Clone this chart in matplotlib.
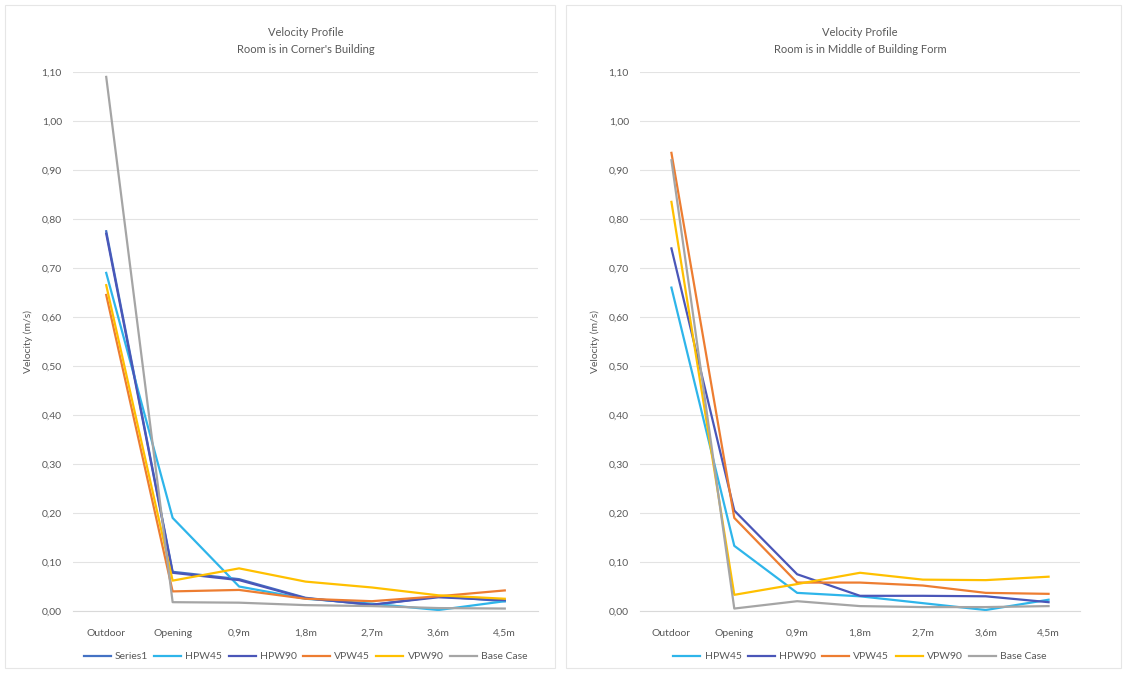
import numpy as np
import matplotlib
matplotlib.use("Agg")
import matplotlib.pyplot as plt
from matplotlib.ticker import FuncFormatter, MultipleLocator

plt.rcParams["font.family"] = ["Lato", "DejaVu Sans"]

categories = ["Outdoor", "Opening", "0,9m", "1,8m", "2,7m", "3,6m", "4,5m"]

# left chart: room in corner of building
corner_series1 = [0.775, 0.080, 0.065, 0.027, 0.012, 0.030, 0.020]
corner_hpw45 = [0.690, 0.190, 0.050, 0.025, 0.015, 0.002, 0.020]
corner_hpw90 = [0.770, 0.078, 0.063, 0.026, 0.013, 0.028, 0.022]
corner_vpw45 = [0.645, 0.040, 0.043, 0.025, 0.020, 0.030, 0.042]
corner_vpw90 = [0.665, 0.062, 0.087, 0.060, 0.048, 0.032, 0.025]
corner_base = [1.090, 0.018, 0.017, 0.012, 0.010, 0.006, 0.005]

# right chart: room in middle of building form
middle_hpw45 = [0.660, 0.133, 0.037, 0.030, 0.016, 0.002, 0.023]
middle_hpw90 = [0.740, 0.205, 0.075, 0.031, 0.031, 0.030, 0.018]
middle_vpw45 = [0.935, 0.190, 0.058, 0.058, 0.052, 0.037, 0.035]
middle_vpw90 = [0.835, 0.033, 0.055, 0.078, 0.064, 0.063, 0.070]
middle_base = [0.920, 0.005, 0.020, 0.010, 0.008, 0.008, 0.010]

colors = {
    "Series1": "#4472C4",
    "HPW45": "#2EB5EA",
    "HPW90": "#4A56B8",
    "VPW45": "#ED7D31",
    "VPW90": "#FFC000",
    "Base Case": "#A5A5A5",
}

txt = "#595959"
fig = plt.figure(figsize=(11.26, 6.73), dpi=100)

# chart frames
fig.add_artist(plt.Rectangle((5 / 1126, 5 / 673), 550 / 1126, 663 / 673,
                             fill=False, edgecolor="#E6E6E6", lw=0.8))
fig.add_artist(plt.Rectangle((566 / 1126, 5 / 673), 555 / 1126, 663 / 673,
                             fill=False, edgecolor="#E6E6E6", lw=0.8))


def comma(v, pos):
    return ("%.2f" % v).replace(".", ",")


def draw(ax, series, title):
    x = np.arange(len(categories))
    for name, vals in series:
        ax.plot(x, vals, color=colors[name], lw=1.6, label=name)
    ax.set_xlim(-0.5, 6.5)
    ax.set_ylim(0, 1.1)
    ax.yaxis.set_major_locator(MultipleLocator(0.1))
    ax.yaxis.set_major_formatter(FuncFormatter(comma))
    ax.set_xticks(x)
    ax.set_xticklabels(categories)
    ax.grid(axis="y", color="#E3E3E3", lw=0.8)
    ax.set_axisbelow(True)
    for s in ax.spines.values():
        s.set_visible(False)
    ax.spines["bottom"].set_visible(True)
    ax.spines["bottom"].set_color("#D9D9D9")
    ax.tick_params(length=0, labelsize=7.5, colors=txt)
    ax.tick_params(axis="x", pad=13)
    ax.tick_params(axis="y", pad=8)
    ax.set_ylabel("Velocity (m/s)", fontsize=7.5, color=txt, labelpad=6)
    ax.set_title(title, fontsize=8, color=txt, pad=14, linespacing=1.6)
    ax.legend(loc="center", bbox_to_anchor=(0.5, -0.085), ncol=len(series),
              frameon=False, fontsize=7.5, labelcolor=txt, handlelength=2.6,
              handletextpad=0.4, columnspacing=0.6)


bottom = 1 - 611 / 673
height = (611 - 72) / 673

ax1 = fig.add_axes([73 / 1126, bottom, (538 - 73) / 1126, height])
draw(ax1, [("Series1", corner_series1), ("HPW45", corner_hpw45),
           ("HPW90", corner_hpw90), ("VPW45", corner_vpw45),
           ("VPW90", corner_vpw90), ("Base Case", corner_base)],
     "Velocity Profile\nRoom is in Corner's Building")

ax2 = fig.add_axes([640 / 1126, bottom, (1080 - 640) / 1126, height])
draw(ax2, [("HPW45", middle_hpw45), ("HPW90", middle_hpw90),
           ("VPW45", middle_vpw45), ("VPW90", middle_vpw90),
           ("Base Case", middle_base)],
     "Velocity Profile\nRoom is in Middle of Building Form")

fig.savefig("out.png", dpi=100, facecolor="white")
